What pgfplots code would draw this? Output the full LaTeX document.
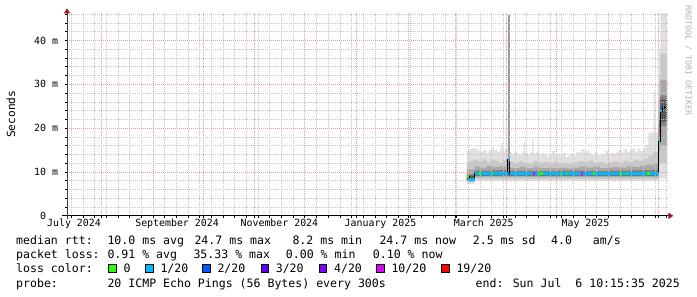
\documentclass[border=0pt]{standalone}
\usepackage{fontspec}
\setmainfont{DejaVu Sans Mono}
\usepackage{pgfplots}
\pgfplotsset{compat=1.18}
\usetikzlibrary{arrows.meta}
\definecolor{lcA}{HTML}{26FF00}
\definecolor{lcB}{HTML}{00B8FF}
\definecolor{lcC}{HTML}{0059FF}
\definecolor{lcD}{HTML}{5E00FF}
\definecolor{lcE}{HTML}{7E00FF}
\definecolor{lcF}{HTML}{DD00FF}
\definecolor{lcG}{HTML}{FF0000}
\definecolor{mgrid}{HTML}{E9A0A0}
\definecolor{ngrid}{HTML}{C6C6C6}
\definecolor{arrowc}{HTML}{9E1A1A}
\definecolor{smA}{HTML}{E0E0E0}
\definecolor{smB}{HTML}{C8C8C8}
\definecolor{smC}{HTML}{A8A8A8}
\definecolor{smD}{HTML}{838383}
\definecolor{smE}{HTML}{585858}
\definecolor{spk}{HTML}{999999}
\newcommand{\lgf}{\fontsize{11.56bp}{14bp}\selectfont}
\newcommand{\tkf}{\fontsize{9.9bp}{12bp}\selectfont}
\begin{document}
\begin{tikzpicture}
\begin{axis}[
  set layers,
  at={(67bp,81.2bp)}, anchor=south west,
  scale only axis, width=600.4bp, height=202.5bp,
  xmin=10.43, xmax=370.43, ymin=0, ymax=46.2,
  axis x line=bottom, axis y line=left,
  x axis line style={-{Triangle[length=5bp,width=6bp,color=arrowc]}, shorten >=-6bp, shorten <=-5bp, line width=1.2bp, black},
  y axis line style={-{Triangle[length=5bp,width=6bp,color=arrowc]}, shorten >=-5bp, shorten <=-3bp, line width=0.9bp, black!75},
  xtick={31,62,92,123,153,184,215,243,274,304,335,365},
  xticklabels={},
  minor xtick={13,20,...,370},
  extra x ticks={14.6,76.4,137.8,198.4,260.3,321.3},
  extra x tick labels={July 2024,September 2024,November 2024,January 2025,March 2025,May 2025},
  extra x tick style={grid=none, major tick length=0pt},
  ytick={0,10,20,30,40},
  yticklabels={0\hphantom{\ m},10 m,20 m,30 m,40 m},
  minor ytick={2,4,...,46},
  grid=both,
  major grid style={draw=mgrid, line width=0.7bp, dash pattern=on 1bp off 1bp},
  minor grid style={draw=ngrid, line width=0.6bp, dash pattern=on 1bp off 1bp},
  tick align=outside,
  major tick length=2.5bp, minor tick length=2bp,
  tick style={black, line width=0.6bp},
  tick label style={font=\tkf},
  yticklabel style={xshift=-3bp},
  clip=true,
]
% smoke layers
\addplot[on layer=axis background, const plot, fill=smA, draw=none] coordinates {
(250.2,14.8) (251.4,15.2) (253,15.4) (255,15.3) (256.6,14.9) (258.2,14.5) (260,14.9) (261.8,14.3) (263.4,15.0) (265,15.5) (266.6,15.0) (268.2,14.6) (269.8,14.9) (270.8,16.6) (271.6,14.8) (273.2,15.3) (275,14.6) (277,14.0) (278.6,14.6) (280.2,14.2) (281.8,13.9) (283.4,14.6) (284.4,16.9) (285.2,14.4) (286.8,14.0) (288.4,14.6) (289.4,17.7) (290.2,14.2) (291.8,14.5) (293.4,13.8) (295,14.3) (296.6,14.0) (298.2,13.6) (299.8,13.9) (301.4,14.8) (303,13.7) (304.6,14.1) (306.2,13.6) (307.8,14.4) (309.4,13.5) (311,13.8) (312.6,14.1) (314.2,13.6) (315.8,14.6) (317.4,14.4) (319,15.2) (320.6,14.6) (322.2,14.9) (323.8,14.2) (325.4,13.8) (327,14.5) (328.6,13.7) (330.2,14.2) (331.8,13.9) (333.4,14.8) (335,14.0) (336.6,14.4) (338.2,14.1) (339.8,14.6) (341.4,15.0) (343,14.4) (344.6,15.2) (346.2,14.5) (347.8,14.9) (349.4,15.3) (351,14.6) (352.6,15.4) (354.2,14.8) (355.8,15.6) (357.4,16.2) (359,19.0) (362.2,28.4) (362.9,19.0) (364.9,30.0) (365.6,38.0) (366.2,46.2) (370.2,46.2)
(370.2,8.5) (365.2,8.0) (254.8,7.3) (250.2,7.3)} -- cycle;
\addplot[on layer=axis background, const plot, fill=smB, draw=none] coordinates {
(250.2,12.2) (252,12.6) (254.8,12.9) (257,12.4) (259.5,12.8) (262,12.2) (264.5,12.9) (267,12.5) (269.5,12.1) (272,12.7) (275,12.3) (278,12.0) (281,12.4) (284,12.1) (287,11.9) (290,12.5) (293,12.0) (296,12.3) (299,11.8) (302,12.2) (305,11.9) (308,12.1) (311,11.8) (314,12.2) (317,12.5) (320,12.2) (323,12.6) (326,12.0) (329,12.3) (332,11.9) (335,12.2) (338,12.4) (341,12.1) (344,12.6) (347,12.3) (350,12.8) (353,12.5) (356,13.0) (359,13.8) (362,14.5) (365,24.0) (365.6,32.0) (366.2,37.0) (370.2,37.0)
(370.2,12.0) (365.2,8.4) (254.8,7.6) (250.2,7.6)} -- cycle;
\addplot[on layer=axis background, const plot, fill=smC, draw=none] coordinates {
(250.2,10.6) (254.8,11.3) (258,11.0) (262,11.4) (266,11.1) (270,11.3) (274,11.0) (278,10.9) (282,11.2) (286,10.9) (290,11.2) (294,10.9) (298,11.0) (302,10.8) (306,11.0) (310,10.8) (314,11.0) (318,11.2) (322,11.0) (326,11.2) (330,10.9) (334,11.0) (338,11.1) (342,11.0) (346,11.3) (350,11.1) (354,11.4) (358,11.6) (362,12.0) (365,20.0) (365.6,27.0) (366.2,31.0) (370.2,31.0)
(370.2,16.0) (366.2,15.0) (365.2,8.9) (254.8,7.9) (250.2,7.9)} -- cycle;
\addplot[on layer=axis background, const plot, fill=smD, draw=none] coordinates {
(250.2,9.4) (254.8,10.3) (265,10.4) (275,10.3) (290,10.2) (305,10.3) (320,10.2) (335,10.3) (350,10.4) (360,10.5) (365,18.5) (365.6,23.0) (366.2,27.5) (370.2,27.5)
(370.2,20.5) (366.2,19.0) (365.2,9.1) (254.8,8.0) (250.2,8.0)} -- cycle;
\addplot[on layer=axis background, const plot, fill=smE, draw=none] coordinates {
(250.2,9.2) (254.8,10.0) (365,17.5) (365.6,22.0) (366.2,26.5) (370.2,26.5)
(370.2,21.5) (366.2,21.0) (365.2,9.2) (254.8,8.1) (250.2,8.1)} -- cycle;
% spike
\addplot[on layer=axis background, fill=spk, draw=none] coordinates {
(275.1,10.0) (275.1,45.9) (276.3,45.9) (276.3,10.0)} -- cycle;
% median: thin black line
\addplot[const plot, black, line width=0.9bp] coordinates {
(250.2,8.9) (251.5,8.3) (254.8,9.6) (274.8,12.9) (275.8,9.6) (365.2,16.9) (366.1,23.9) (367.4,24.9) (368.8,24.7) (369.3,24.7)};
% median coloured by loss: 1/20
\addplot[lcB, line width=2.6bp, unbounded coords=jump] coordinates {
(251.5,8.3) (254.8,8.3) (254.9,nan)
(254.8,9.6) (274.8,9.6) (274.9,nan)
(274.8,12.9) (275.8,12.9) (275.9,nan)
(275.8,9.6) (365.2,9.6) (365.3,nan)
(365.2,16.9) (366.1,16.9) (366.2,nan)
(366.1,23.9) (367.2,23.9) (367.3,nan)
(367.5,24.9) (368.6,24.9)};
% 0 loss
\addplot[lcA, line width=2.6bp, unbounded coords=jump] coordinates {
(250.2,8.9) (251.5,8.9) (251.6,nan)
(257.5,9.6) (258.5,9.6) (258.6,nan)
(265.1,9.6) (265.9,9.6) (266.0,nan)
(293.4,9.6) (296.0,9.6) (296.1,nan)
(306.0,9.6) (306.9,9.6) (307.0,nan)
(309.6,9.6) (310.5,9.6) (310.6,nan)
(326.0,9.6) (327.0,9.6) (327.1,nan)
(342.0,9.6) (343.0,9.6) (343.1,nan)
(346.0,9.6) (347.0,9.6) (347.1,nan)
(358.0,9.6) (360.0,9.6)};
% 10/20 loss
\addplot[lcF, line width=2.6bp, unbounded coords=jump] coordinates {
(289.7,9.6) (291.2,9.6) (291.3,nan)
(318.4,9.6) (320.0,9.6)};
\end{axis}
\pgfresetboundingbox
\path[use as bounding box] (0bp,0bp) rectangle (697bp,297bp);
% y title and watermark
\node[rotate=90, inner sep=0pt, font=\fontsize{11.2bp}{13bp}\selectfont] at (11bp,182.75bp) {Seconds};
\node[rotate=-90, anchor=west, inner sep=0pt, text=black!30, font=\fontsize{8.3bp}{10bp}\selectfont] at (688.3bp,292bp) {RRDTOOL / TOBI OETIKER};
% legend line 1
\node[anchor=base west, inner sep=0pt, font=\lgf] at (16bp,52.3bp) {median rtt:};
\node[anchor=base west, inner sep=0pt, font=\lgf] at (107.3bp,52.3bp) {10.0 ms avg};
\node[anchor=base west, inner sep=0pt, font=\lgf] at (194.3bp,52.3bp) {24.7 ms max};
\node[anchor=base west, inner sep=0pt, font=\lgf] at (292.3bp,52.3bp) {8.2 ms min};
\node[anchor=base west, inner sep=0pt, font=\lgf] at (379.3bp,52.3bp) {24.7 ms now};
\node[anchor=base west, inner sep=0pt, font=\lgf] at (472.7bp,52.3bp) {2.5 ms sd};
\node[anchor=base west, inner sep=0pt, font=\lgf] at (551bp,52.3bp) {4.0};
\node[anchor=base west, inner sep=0pt, font=\lgf] at (592.7bp,52.3bp) {am/s};
% legend line 2
\node[anchor=base west, inner sep=0pt, font=\lgf] at (16bp,38.3bp) {packet loss:};
\node[anchor=base west, inner sep=0pt, font=\lgf] at (107.3bp,38.3bp) {0.91 \% avg};
\node[anchor=base west, inner sep=0pt, font=\lgf] at (193.3bp,38.3bp) {35.33 \% max};
\node[anchor=base west, inner sep=0pt, font=\lgf] at (285.7bp,38.3bp) {0.00 \% min};
\node[anchor=base west, inner sep=0pt, font=\lgf] at (372.7bp,38.3bp) {0.10 \% now};
% legend line 3
\node[anchor=base west, inner sep=0pt, font=\lgf] at (16bp,24.3bp) {loss color:};
\draw[fill=lcA, line width=0.8bp] (108.7bp,24.9bp) rectangle ++(7.4bp,7.6bp);
\node[anchor=base west, inner sep=0pt, font=\lgf] at (123.3bp,24.3bp) {0};
\draw[fill=lcB, line width=0.8bp] (145.7bp,24.9bp) rectangle ++(7.4bp,7.6bp);
\node[anchor=base west, inner sep=0pt, font=\lgf] at (160.3bp,24.3bp) {1/20};
\draw[fill=lcC, line width=0.8bp] (202.7bp,24.9bp) rectangle ++(7.4bp,7.6bp);
\node[anchor=base west, inner sep=0pt, font=\lgf] at (217.3bp,24.3bp) {2/20};
\draw[fill=lcD, line width=0.8bp] (261bp,24.9bp) rectangle ++(7.4bp,7.6bp);
\node[anchor=base west, inner sep=0pt, font=\lgf] at (275.6bp,24.3bp) {3/20};
\draw[fill=lcE, line width=0.8bp] (319.3bp,24.9bp) rectangle ++(7.4bp,7.6bp);
\node[anchor=base west, inner sep=0pt, font=\lgf] at (333.9bp,24.3bp) {4/20};
\draw[fill=lcF, line width=0.8bp] (376.7bp,24.9bp) rectangle ++(7.4bp,7.6bp);
\node[anchor=base west, inner sep=0pt, font=\lgf] at (391.3bp,24.3bp) {10/20};
\draw[fill=lcG, line width=0.8bp] (441.7bp,24.9bp) rectangle ++(7.4bp,7.6bp);
\node[anchor=base west, inner sep=0pt, font=\lgf] at (456.3bp,24.3bp) {19/20};
% legend line 4
\node[anchor=base west, inner sep=0pt, font=\lgf] at (16bp,10bp) {probe:};
\node[anchor=base west, inner sep=0pt, font=\lgf] at (107.3bp,10bp) {20 ICMP Echo Pings (56 Bytes) every 300s};
\node[anchor=base east, inner sep=0pt, font=\lgf] at (680bp,10bp) {end: Sun Jul\ \ 6 10:15:35 2025};
\end{tikzpicture}
\end{document}
